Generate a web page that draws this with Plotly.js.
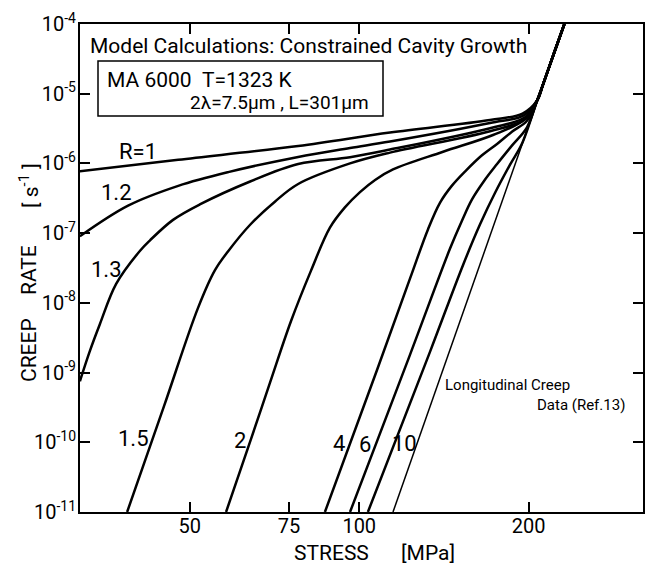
<!DOCTYPE html>
<html><head><meta charset="utf-8">
<script src="https://cdn.plot.ly/plotly-3.0.1.min.js"></script>
<style>html,body{margin:0;padding:0;background:#fff;}</style>
</head><body>
<div id="chart" style="width:645px;height:567px;"></div>
<script>
// ---- data (stress in MPa, creep rate in 1/s), one curve per cavity parameter R ----
const stressR1  = [31.9, 47.7, 77.9, 113.4, 170.7, 195, 207, 212, 222, 231.4];
const rateR1    = [7.7e-7, 1.13e-6, 1.78e-6, 2.77e-6, 4.2e-6, 5.2e-6, 8.0e-6, 1.35e-5, 3.9e-5, 1e-4];

const stressR12 = [31.9, 38.85, 47.7, 58.5, 77.9, 96.3, 113.4, 170.7, 196, 207, 212, 222, 231.4];
const rateR12   = [9.0e-8, 2.48e-7, 4.77e-7, 7.5e-7, 1.24e-6, 1.66e-6, 2.06e-6, 3.8e-6, 4.9e-6, 8.0e-6, 1.35e-5, 3.9e-5, 1e-4];

const stressR13 = [31.9, 33.2, 34.6, 37.0, 40.8, 42.5, 46.7, 52.1, 64.0, 77.9, 96.3, 113.4, 170.7, 197, 207, 212, 222, 231.4];
const rateR13   = [7.5e-10, 2.0e-9, 4.9e-9, 1.87e-8, 5.6e-8, 7.9e-8, 1.55e-7, 2.58e-7, 5.5e-7, 9.8e-7, 1.23e-6, 1.58e-6, 3.2e-6, 4.6e-6, 8.0e-6, 1.35e-5, 3.9e-5, 1e-4];

const stressR15 = [38.7, 45.0, 51.7, 55.4, 58.5, 64.0, 70.9, 77.9, 96.3, 113.4, 170.7, 198, 207, 212, 222, 231.4];
const rateR15   = [1e-11, 3.3e-10, 8.4e-9, 2.92e-8, 5.5e-8, 1.32e-7, 2.85e-7, 5.07e-7, 1.0e-6, 1.43e-6, 2.9e-6, 4.4e-6, 8.0e-6, 1.35e-5, 3.9e-5, 1e-4];

const stressR2  = [58.0, 64.2, 69.4, 75.6, 82.1, 88.7, 94.3, 100.3, 106.7, 114.8, 140.9, 172.8, 196, 207, 212, 222, 231.4];
const rateR2    = [1e-11, 1.1e-10, 7.1e-10, 5.4e-9, 2.9e-8, 1.2e-7, 2.34e-7, 3.88e-7, 5.8e-7, 8.2e-7, 1.47e-6, 2.56e-6, 4.2e-6, 8.0e-6, 1.35e-5, 3.9e-5, 1e-4];

const stressR4  = [86.9, 107.5, 123.1, 132.5, 139.1, 146.1, 154.7, 165.2, 175.7, 186.7, 198.6, 207, 212, 222, 231.4];
const rateR4    = [1e-11, 1.08e-9, 2.24e-8, 1.14e-7, 2.72e-7, 4.8e-7, 7.9e-7, 1.31e-6, 1.9e-6, 2.85e-6, 4.1e-6, 8.0e-6, 1.35e-5, 3.9e-5, 1e-4];

const stressR6  = [96.3, 123.1, 144.9, 152.2, 158.6, 166.6, 175.7, 186.7, 198.6, 207, 212, 222, 231.4];
const rateR6    = [1e-11, 1.81e-9, 5.96e-8, 1.51e-7, 3.05e-7, 5.6e-7, 9.8e-7, 1.8e-6, 3.3e-6, 8.0e-6, 1.35e-5, 3.9e-5, 1e-4];

const stressR10 = [103.6, 133.6, 152.9, 163.9, 174.2, 185.3, 194.6, 207, 212, 222, 231.4];
const rateR10   = [1e-11, 2.0e-9, 3.5e-8, 1.34e-7, 3.76e-7, 9.6e-7, 1.93e-6, 8.0e-6, 1.35e-5, 3.9e-5, 1e-4];

// longitudinal creep data (Ref. 13)
const stressLong = [114.8, 231.4];
const rateLong   = [1e-11, 1e-4];

const xTickVals = [50, 75, 100, 200];
const xTickText = ['50', '75', '100', '200'];
const yTickVals = [1e-11, 1e-10, 1e-9, 1e-8, 1e-7, 1e-6, 1e-5, 1e-4];
const yTickText = ['10<sup>-11</sup>', '10<sup>-10</sup>', '10<sup>-9</sup>', '10<sup>-8</sup>',
                   '10<sup>-7</sup>', '10<sup>-6</sup>', '10<sup>-5</sup>', '10<sup>-4</sup>'];

// ---- layout helpers ----
const FONT = 'Roboto, Arial, sans-serif';
const L = 80, T = 24, W = 563, H = 488;
const px = x => (x - L) / W;
const py = y => (T + H - y) / H;

function curve(x, y, w) {
  return {x: x, y: y, type: 'scatter', mode: 'lines',
          line: {color: '#000', width: w, shape: 'spline', smoothing: 1.0},
          hoverinfo: 'skip', showlegend: false};
}

const traces = [
  curve(stressR1, rateR1, 2.5),
  curve(stressR12, rateR12, 2.5),
  curve(stressR13, rateR13, 2.5),
  curve(stressR15, rateR15, 2.5),
  curve(stressR2, rateR2, 2.5),
  curve(stressR4, rateR4, 2.5),
  curve(stressR6, rateR6, 2.5),
  curve(stressR10, rateR10, 2.5),
  {x: stressLong, y: rateLong, type: 'scatter', mode: 'lines',
   line: {color: '#000', width: 1.5}, hoverinfo: 'skip', showlegend: false}
];

function ann(text, x, y, size, xanchor, extra) {
  return Object.assign({text: text, xref: 'paper', yref: 'paper', x: px(x), y: py(y),
    xanchor: xanchor || 'center', yanchor: 'middle', showarrow: false,
    font: {family: FONT, size: size, color: '#000'}}, extra || {});
}

const annotations = [
  ann('Model Calculations: Constrained Cavity Growth', 88, 46, 21, 'left'),
  ann('MA 6000\u00a0\u00a0T=1323 K', 105, 80, 21, 'left'),
  ann('2λ=7.5μm , L=301μm', 188, 102, 19, 'left'),
  ann('R=1', 138, 151, 22),
  ann('1.2', 116, 192, 22),
  ann('1.3', 106, 269, 22),
  ann('1.5', 133, 438, 22),
  ann('2', 240, 440, 22),
  ann('4', 339, 443, 22),
  ann('6', 365, 445, 22),
  ann('10', 404, 443, 22),
  ann('Longitudinal Creep', 443, 385, 15, 'left'),
  ann('Data (Ref.13)', 535, 405, 15, 'left'),
  ann('STRESS', 331, 553, 21),
  ann('[MPa]', 428, 553, 21),
  ann('CREEP', 29, 350, 21, 'center', {textangle: -90}),
  ann('RATE', 29, 270, 21, 'center', {textangle: -90}),
  ann('[ s<sup>-1</sup> ]', 29, 186, 21, 'center', {textangle: -90})
];

const layout = {
  width: 645, height: 567,
  margin: {l: L, r: 645 - L - W, t: T, b: 567 - T - H, pad: 0},
  paper_bgcolor: '#fff', plot_bgcolor: '#fff',
  showlegend: false,
  font: {family: FONT, size: 20, color: '#000'},
  xaxis: {type: 'log', range: [1.504, 2.504], tickvals: xTickVals, ticktext: xTickText,
          ticks: 'inside', ticklen: 10, tickwidth: 2, tickcolor: '#000',
          showline: true, linewidth: 2, linecolor: '#000', mirror: 'ticks',
          showgrid: false, zeroline: false, ticklabelstandoff: -5,
          tickfont: {family: FONT, size: 20}},
  yaxis: {type: 'log', range: [-11, -4], tickvals: yTickVals, ticktext: yTickText,
          ticks: 'inside', ticklen: 10, tickwidth: 2, tickcolor: '#000',
          showline: true, linewidth: 2, linecolor: '#000', mirror: 'ticks',
          showgrid: false, zeroline: false, ticklabelstandoff: -2,
          tickfont: {family: FONT, size: 20}},
  shapes: [{type: 'rect', xref: 'paper', yref: 'paper',
            x0: px(98), x1: px(383), y0: py(116), y1: py(61),
            line: {color: '#000', width: 1.5}, fillcolor: 'rgba(0,0,0,0)'}],
  annotations: annotations
};

Plotly.newPlot('chart', traces, layout, {displayModeBar: false, staticPlot: true});
</script>
</body></html>
